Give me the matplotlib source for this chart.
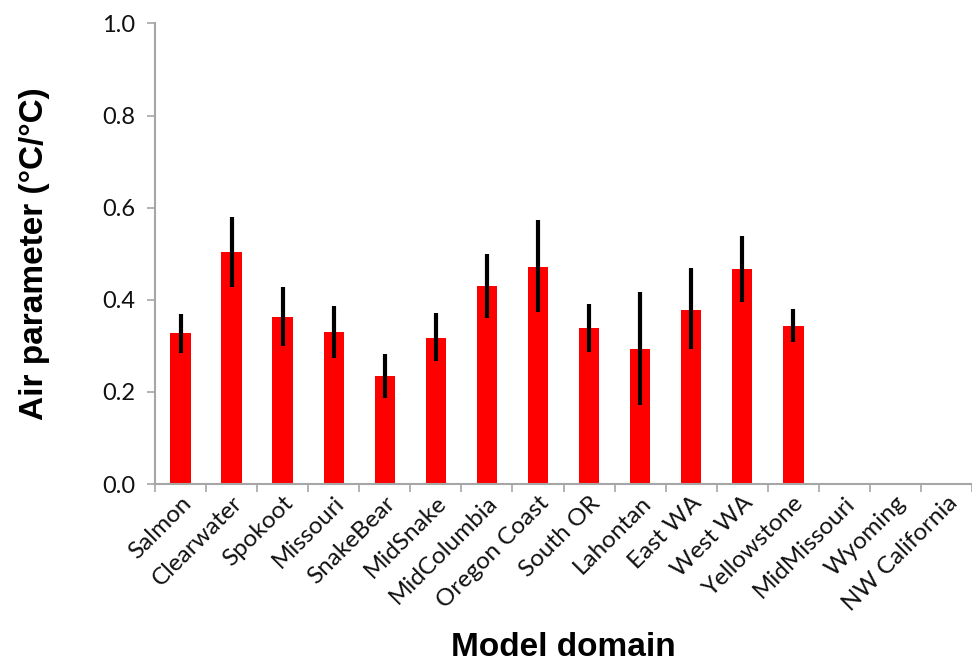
import numpy as np
import matplotlib.pyplot as plt

# valeurs
domains = ["Salmon", "Clearwater", "Spokoot", "Missouri", "SnakeBear", "MidSnake",
           "MidColumbia", "Oregon Coast", "South OR", "Lahontan", "East WA", "West WA",
           "Yellowstone", "MidMissouri", "Wyoming", "NW California"]
air_param = [0.327, 0.503, 0.363, 0.331, 0.234, 0.318, 0.430, 0.472, 0.339, 0.294,
             0.378, 0.467, 0.343, np.nan, np.nan, np.nan]
err_low = [0.042, 0.076, 0.063, 0.057, 0.048, 0.051, 0.070, 0.098, 0.052, 0.123,
           0.084, 0.071, 0.035, np.nan, np.nan, np.nan]
err_high = [0.043, 0.076, 0.064, 0.055, 0.048, 0.054, 0.069, 0.101, 0.052, 0.122,
            0.090, 0.071, 0.036, np.nan, np.nan, np.nan]

x = np.arange(len(domains))
grey = "#A6A6A6"

fig = plt.figure(figsize=(9.72, 6.68), dpi=100)
ax = fig.add_axes([0.1595, 0.2754, 0.8405, 0.6896])

ax.bar(x, air_param, width=0.4, color="#FF0000", zorder=2)
ax.errorbar(x, air_param, yerr=[err_low, err_high], fmt="none", ecolor="black",
            elinewidth=3, capsize=0, zorder=3)

ax.set_xlim(-0.5, len(domains) - 0.5)
ax.set_ylim(0, 1.0)
ax.set_yticks(np.arange(0, 1.01, 0.2))
ax.set_yticklabels([f"{v:.1f}" for v in np.arange(0, 1.01, 0.2)],
                   fontsize=17, family="Lato", color="#111111")

# graduations entre les categories (style Excel)
ax.set_xticks(np.arange(-0.5, len(domains), 1.0))
ax.set_xticklabels([])
ax.set_xticks(x, minor=True)
ax.set_xticklabels(domains, minor=True, rotation=45, ha="right", va="top",
                   rotation_mode="anchor", fontsize=17.5, family="Lato", color="#111111")
ax.tick_params(axis="x", which="minor", length=0, pad=6)
ax.tick_params(axis="x", which="major", length=6, color=grey, width=1.2)
ax.tick_params(axis="y", length=6, color=grey, width=1.2, pad=8)

for side in ["top", "right"]:
    ax.spines[side].set_visible(False)
for side in ["left", "bottom"]:
    ax.spines[side].set_color(grey)
    ax.spines[side].set_linewidth(1.5)

ax.set_ylabel("Air parameter (°C/°C)", fontsize=24, fontweight="bold",
              family="Liberation Sans", labelpad=38)
ax.set_xlabel("Model domain", fontsize=24, fontweight="bold",
              family="Liberation Sans", labelpad=12)

fig.savefig("out.png", dpi=100)
